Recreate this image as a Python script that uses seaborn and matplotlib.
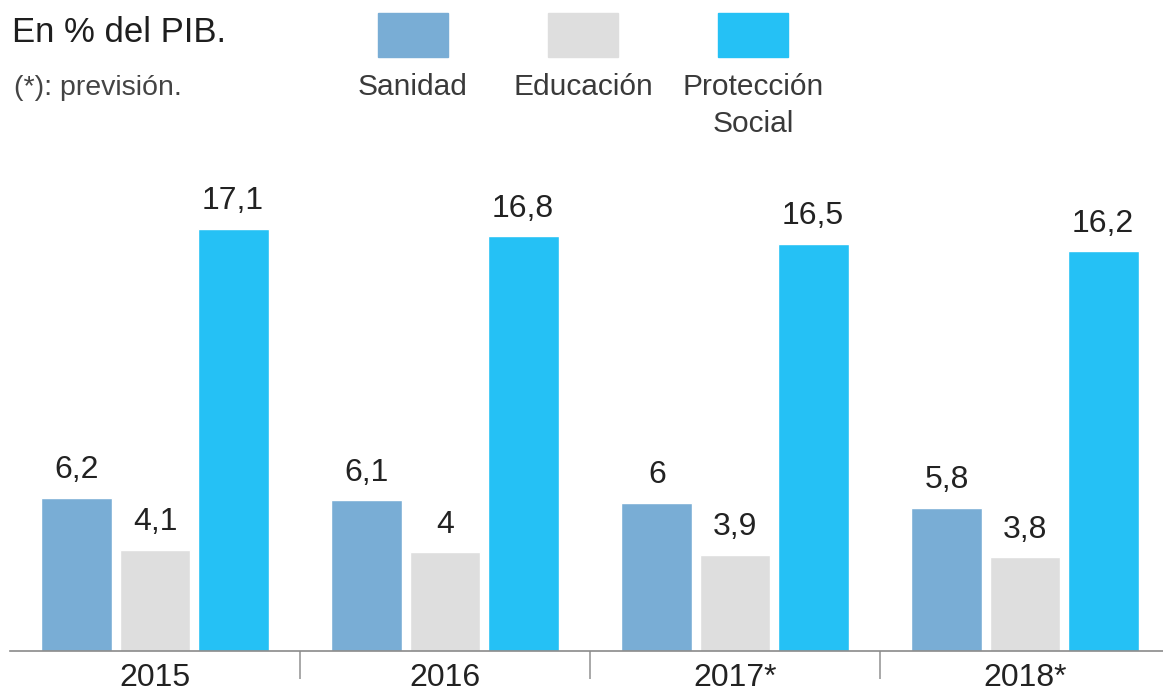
import matplotlib
matplotlib.use("Agg")
import matplotlib.pyplot as plt
from matplotlib.patches import Rectangle
import pandas as pd
import seaborn as sns

# Datos: gasto público en % del PIB
years = ["2015", "2016", "2017*", "2018*"]
series = ["Sanidad", "Educación", "Protección Social"]
sanidad = [6.2, 6.1, 6.0, 5.8]
educacion = [4.1, 4.0, 3.9, 3.8]
proteccion = [17.1, 16.8, 16.5, 16.2]
colors = ["#79add5", "#dedede", "#25c1f5"]
legend_labels = ["Sanidad", "Educación", "Protección\nSocial"]

df = pd.DataFrame({
    "year": years * 3,
    "serie": [series[0]] * 4 + [series[1]] * 4 + [series[2]] * 4,
    "valor": sanidad + educacion + proteccion,
})

sns.set_style("white")
plt.rcParams["font.family"] = ["Liberation Sans", "DejaVu Sans"]

W, H = 1163, 695
fig = plt.figure(figsize=(W / 100, H / 100), dpi=100)
# eje: base en y=651 px, izquierda en x=10 px
ax = fig.add_axes([10 / W, 44 / H, (W - 10) / W, 493.6 / H])

sns.barplot(data=df, x="year", y="valor", hue="serie", order=years,
            hue_order=series, palette=colors, width=0.807, gap=0.09,
            saturation=1, legend=False, ax=ax)

ax.set_xlim(-0.5, 3.5 - 7 / 290)
ax.set_ylim(0, 20)

def fmt(v):
    return ("%g" % v).replace(".", ",")

for cont in ax.containers:
    ax.bar_label(cont, labels=[fmt(b.get_height()) for b in cont],
                 padding=9, fontsize=23, color="#222222")

for s in ["top", "right", "left"]:
    ax.spines[s].set_visible(False)
ax.spines["bottom"].set_color("#8a8a8a")
ax.spines["bottom"].set_linewidth(1.2)
ax.set_yticks([])
ax.set_xlabel("")
ax.set_ylabel("")
ax.tick_params(axis="x", which="major", bottom=False, length=0, pad=9,
               labelsize=23, labelcolor="#222222")
ax.set_xticks([0.5, 1.5, 2.5], minor=True)
ax.tick_params(axis="x", which="minor", bottom=True, length=20, width=1.2,
               color="#9a9a9a", direction="out")

# cabecera
fig.text(12 / W, 1 - 32 / H, "En % del PIB.", fontsize=25, color="#1e1e1e",
         va="center", ha="left")
fig.text(14 / W, 1 - 88 / H, "(*): previsión.", fontsize=20.5, color="#444444",
         va="center", ha="left")

# leyenda manual
for i, (lab, col) in enumerate(zip(legend_labels, colors)):
    x0 = 378 + i * 170
    fig.add_artist(Rectangle((x0 / W, 1 - 57 / H), 70 / W, 44 / H,
                             transform=fig.transFigure, color=col))
    fig.text((x0 + 35) / W, 1 - 73 / H, lab, fontsize=21.5, color="#3a3a3a",
             ha="center", va="top", linespacing=1.4)

fig.savefig("out.png", dpi=100)
